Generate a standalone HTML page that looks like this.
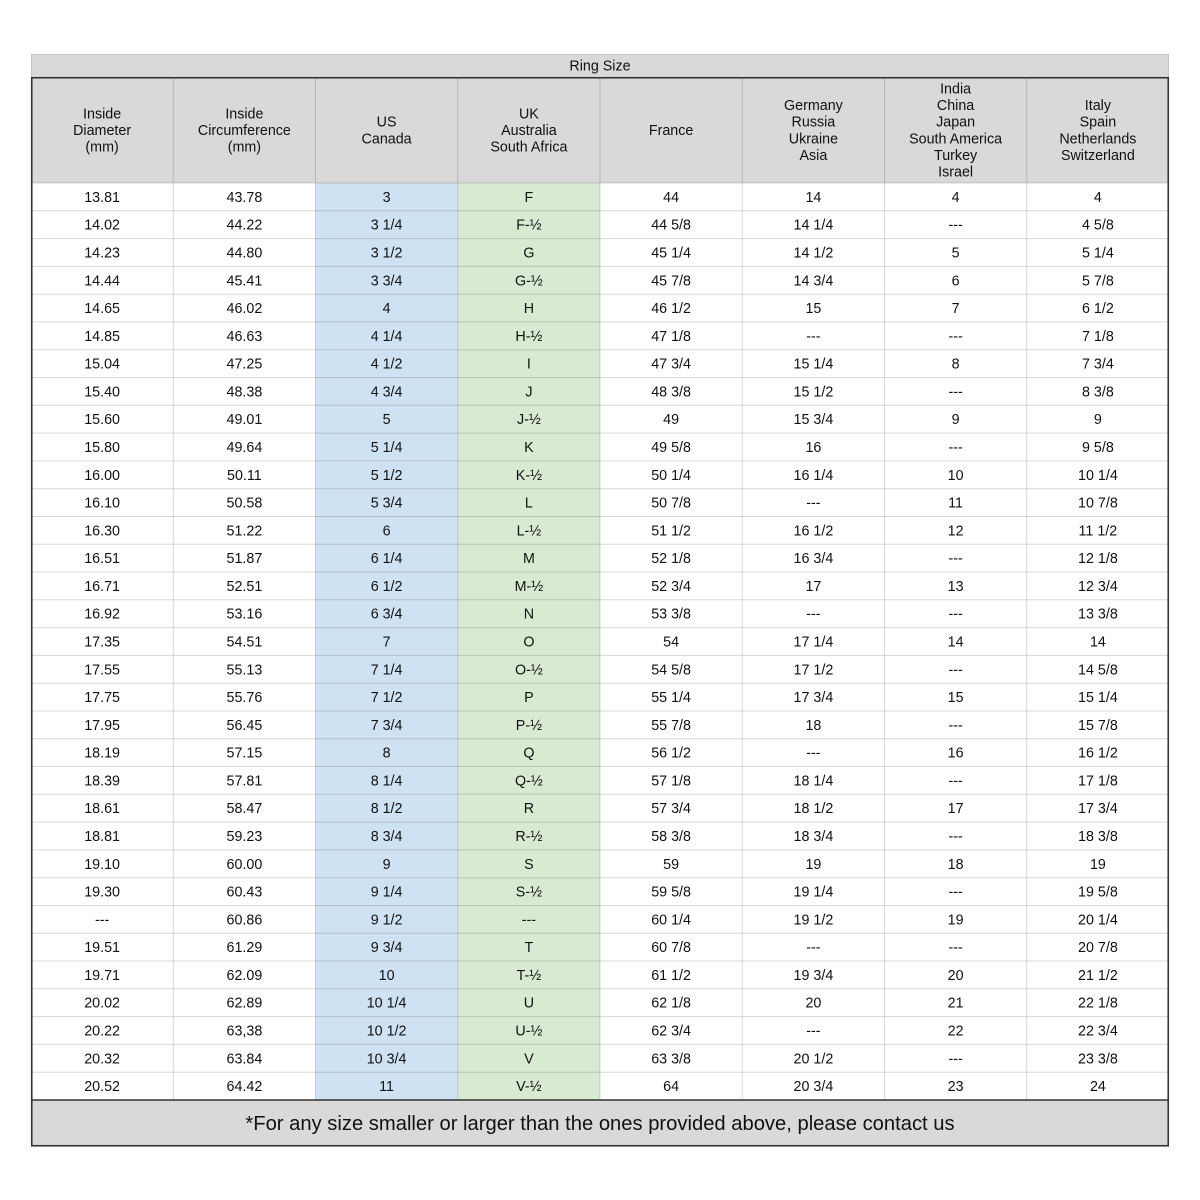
<!DOCTYPE html>
<html><head><meta charset="utf-8"><style>
html,body{margin:0;padding:0;background:#fff;}
svg{display:block;}
text{font-family:"Liberation Sans",Arial,sans-serif;font-size:14.3px;fill:#111;text-anchor:middle;}
.f{font-size:20.2px;}
</style></head><body>
<svg width="1200" height="1200" viewBox="0 0 1200 1200" xmlns="http://www.w3.org/2000/svg">
<rect x="0" y="0" width="1200" height="1200" fill="#fff"/>
<rect x="31.5" y="54.5" width="1137" height="23" fill="#d9d9d9" stroke="#c4c4c4" stroke-width="1"/>
<text x="600" y="70.5">Ring Size</text>
<rect x="31" y="77" width="1138" height="106" fill="#d9d9d9"/>
<rect x="315.5" y="183" width="142.25" height="917" fill="#cfe2f3"/>
<rect x="457.75" y="183" width="142.25" height="917" fill="#d9ead3"/>
<rect x="31" y="1100" width="1138" height="46" fill="#d9d9d9"/>
<g stroke="rgba(0,0,0,0.15)" stroke-width="1" fill="none">
<path d="M173.25 77V1100M315.5 77V1100M457.75 77V1100M600 77V1100M742.25 77V1100M884.5 77V1100M1026.75 77V1100"/>
<path d="M31 183H1169M31 210.8H1169M31 238.6H1169M31 266.4H1169M31 294.2H1169M31 321.9H1169M31 349.7H1169M31 377.5H1169M31 405.3H1169M31 433.1H1169M31 460.9H1169M31 488.7H1169M31 516.5H1169M31 544.2H1169M31 572H1169M31 599.8H1169M31 627.6H1169M31 655.4H1169M31 683.2H1169M31 711H1169M31 738.8H1169M31 766.5H1169M31 794.3H1169M31 822.1H1169M31 849.9H1169M31 877.7H1169M31 905.5H1169M31 933.3H1169M31 961H1169M31 988.8H1169M31 1016.6H1169M31 1044.4H1169M31 1072.2H1169"/>
</g>
<!-- header -->
<text x="102.1" y="118.4">Inside</text><text x="102.1" y="135">Diameter</text><text x="102.1" y="151.6">(mm)</text>
<text x="244.4" y="118.4">Inside</text><text x="244.4" y="135">Circumference</text><text x="244.4" y="151.6">(mm)</text>
<text x="386.6" y="126.7">US</text><text x="386.6" y="143.3">Canada</text>
<text x="528.9" y="118.4">UK</text><text x="528.9" y="135">Australia</text><text x="528.9" y="151.6">South Africa</text>
<text x="671.1" y="135">France</text>
<text x="813.4" y="110.1">Germany</text><text x="813.4" y="126.7">Russia</text><text x="813.4" y="143.3">Ukraine</text><text x="813.4" y="159.9">Asia</text>
<text x="955.6" y="93.5">India</text><text x="955.6" y="110.1">China</text><text x="955.6" y="126.7">Japan</text><text x="955.6" y="143.3">South America</text><text x="955.6" y="159.9">Turkey</text><text x="955.6" y="176.5">Israel</text>
<text x="1097.9" y="110.1">Italy</text><text x="1097.9" y="126.7">Spain</text><text x="1097.9" y="143.3">Netherlands</text><text x="1097.9" y="159.9">Switzerland</text>
<!-- rows -->
<text y="201.9"><tspan x="102.1">13.81</tspan><tspan x="244.4">43.78</tspan><tspan x="386.6">3</tspan><tspan x="528.9">F</tspan><tspan x="671.1">44</tspan><tspan x="813.4">14</tspan><tspan x="955.6">4</tspan><tspan x="1097.9">4</tspan></text>
<text y="229.7"><tspan x="102.1">14.02</tspan><tspan x="244.4">44.22</tspan><tspan x="386.6">3 1/4</tspan><tspan x="528.9">F-½</tspan><tspan x="671.1">44 5/8</tspan><tspan x="813.4">14 1/4</tspan><tspan x="955.6">---</tspan><tspan x="1097.9">4 5/8</tspan></text>
<text y="257.5"><tspan x="102.1">14.23</tspan><tspan x="244.4">44.80</tspan><tspan x="386.6">3 1/2</tspan><tspan x="528.9">G</tspan><tspan x="671.1">45 1/4</tspan><tspan x="813.4">14 1/2</tspan><tspan x="955.6">5</tspan><tspan x="1097.9">5 1/4</tspan></text>
<text y="285.3"><tspan x="102.1">14.44</tspan><tspan x="244.4">45.41</tspan><tspan x="386.6">3 3/4</tspan><tspan x="528.9">G-½</tspan><tspan x="671.1">45 7/8</tspan><tspan x="813.4">14 3/4</tspan><tspan x="955.6">6</tspan><tspan x="1097.9">5 7/8</tspan></text>
<text y="313.0"><tspan x="102.1">14.65</tspan><tspan x="244.4">46.02</tspan><tspan x="386.6">4</tspan><tspan x="528.9">H</tspan><tspan x="671.1">46 1/2</tspan><tspan x="813.4">15</tspan><tspan x="955.6">7</tspan><tspan x="1097.9">6 1/2</tspan></text>
<text y="340.8"><tspan x="102.1">14.85</tspan><tspan x="244.4">46.63</tspan><tspan x="386.6">4 1/4</tspan><tspan x="528.9">H-½</tspan><tspan x="671.1">47 1/8</tspan><tspan x="813.4">---</tspan><tspan x="955.6">---</tspan><tspan x="1097.9">7 1/8</tspan></text>
<text y="368.6"><tspan x="102.1">15.04</tspan><tspan x="244.4">47.25</tspan><tspan x="386.6">4 1/2</tspan><tspan x="528.9">I</tspan><tspan x="671.1">47 3/4</tspan><tspan x="813.4">15 1/4</tspan><tspan x="955.6">8</tspan><tspan x="1097.9">7 3/4</tspan></text>
<text y="396.4"><tspan x="102.1">15.40</tspan><tspan x="244.4">48.38</tspan><tspan x="386.6">4 3/4</tspan><tspan x="528.9">J</tspan><tspan x="671.1">48 3/8</tspan><tspan x="813.4">15 1/2</tspan><tspan x="955.6">---</tspan><tspan x="1097.9">8 3/8</tspan></text>
<text y="424.2"><tspan x="102.1">15.60</tspan><tspan x="244.4">49.01</tspan><tspan x="386.6">5</tspan><tspan x="528.9">J-½</tspan><tspan x="671.1">49</tspan><tspan x="813.4">15 3/4</tspan><tspan x="955.6">9</tspan><tspan x="1097.9">9</tspan></text>
<text y="452.0"><tspan x="102.1">15.80</tspan><tspan x="244.4">49.64</tspan><tspan x="386.6">5 1/4</tspan><tspan x="528.9">K</tspan><tspan x="671.1">49 5/8</tspan><tspan x="813.4">16</tspan><tspan x="955.6">---</tspan><tspan x="1097.9">9 5/8</tspan></text>
<text y="479.8"><tspan x="102.1">16.00</tspan><tspan x="244.4">50.11</tspan><tspan x="386.6">5 1/2</tspan><tspan x="528.9">K-½</tspan><tspan x="671.1">50 1/4</tspan><tspan x="813.4">16 1/4</tspan><tspan x="955.6">10</tspan><tspan x="1097.9">10 1/4</tspan></text>
<text y="507.6"><tspan x="102.1">16.10</tspan><tspan x="244.4">50.58</tspan><tspan x="386.6">5 3/4</tspan><tspan x="528.9">L</tspan><tspan x="671.1">50 7/8</tspan><tspan x="813.4">---</tspan><tspan x="955.6">11</tspan><tspan x="1097.9">10 7/8</tspan></text>
<text y="535.3"><tspan x="102.1">16.30</tspan><tspan x="244.4">51.22</tspan><tspan x="386.6">6</tspan><tspan x="528.9">L-½</tspan><tspan x="671.1">51 1/2</tspan><tspan x="813.4">16 1/2</tspan><tspan x="955.6">12</tspan><tspan x="1097.9">11 1/2</tspan></text>
<text y="563.1"><tspan x="102.1">16.51</tspan><tspan x="244.4">51.87</tspan><tspan x="386.6">6 1/4</tspan><tspan x="528.9">M</tspan><tspan x="671.1">52 1/8</tspan><tspan x="813.4">16 3/4</tspan><tspan x="955.6">---</tspan><tspan x="1097.9">12 1/8</tspan></text>
<text y="590.9"><tspan x="102.1">16.71</tspan><tspan x="244.4">52.51</tspan><tspan x="386.6">6 1/2</tspan><tspan x="528.9">M-½</tspan><tspan x="671.1">52 3/4</tspan><tspan x="813.4">17</tspan><tspan x="955.6">13</tspan><tspan x="1097.9">12 3/4</tspan></text>
<text y="618.7"><tspan x="102.1">16.92</tspan><tspan x="244.4">53.16</tspan><tspan x="386.6">6 3/4</tspan><tspan x="528.9">N</tspan><tspan x="671.1">53 3/8</tspan><tspan x="813.4">---</tspan><tspan x="955.6">---</tspan><tspan x="1097.9">13 3/8</tspan></text>
<text y="646.5"><tspan x="102.1">17.35</tspan><tspan x="244.4">54.51</tspan><tspan x="386.6">7</tspan><tspan x="528.9">O</tspan><tspan x="671.1">54</tspan><tspan x="813.4">17 1/4</tspan><tspan x="955.6">14</tspan><tspan x="1097.9">14</tspan></text>
<text y="674.3"><tspan x="102.1">17.55</tspan><tspan x="244.4">55.13</tspan><tspan x="386.6">7 1/4</tspan><tspan x="528.9">O-½</tspan><tspan x="671.1">54 5/8</tspan><tspan x="813.4">17 1/2</tspan><tspan x="955.6">---</tspan><tspan x="1097.9">14 5/8</tspan></text>
<text y="702.1"><tspan x="102.1">17.75</tspan><tspan x="244.4">55.76</tspan><tspan x="386.6">7 1/2</tspan><tspan x="528.9">P</tspan><tspan x="671.1">55 1/4</tspan><tspan x="813.4">17 3/4</tspan><tspan x="955.6">15</tspan><tspan x="1097.9">15 1/4</tspan></text>
<text y="729.9"><tspan x="102.1">17.95</tspan><tspan x="244.4">56.45</tspan><tspan x="386.6">7 3/4</tspan><tspan x="528.9">P-½</tspan><tspan x="671.1">55 7/8</tspan><tspan x="813.4">18</tspan><tspan x="955.6">---</tspan><tspan x="1097.9">15 7/8</tspan></text>
<text y="757.6"><tspan x="102.1">18.19</tspan><tspan x="244.4">57.15</tspan><tspan x="386.6">8</tspan><tspan x="528.9">Q</tspan><tspan x="671.1">56 1/2</tspan><tspan x="813.4">---</tspan><tspan x="955.6">16</tspan><tspan x="1097.9">16 1/2</tspan></text>
<text y="785.4"><tspan x="102.1">18.39</tspan><tspan x="244.4">57.81</tspan><tspan x="386.6">8 1/4</tspan><tspan x="528.9">Q-½</tspan><tspan x="671.1">57 1/8</tspan><tspan x="813.4">18 1/4</tspan><tspan x="955.6">---</tspan><tspan x="1097.9">17 1/8</tspan></text>
<text y="813.2"><tspan x="102.1">18.61</tspan><tspan x="244.4">58.47</tspan><tspan x="386.6">8 1/2</tspan><tspan x="528.9">R</tspan><tspan x="671.1">57 3/4</tspan><tspan x="813.4">18 1/2</tspan><tspan x="955.6">17</tspan><tspan x="1097.9">17 3/4</tspan></text>
<text y="841.0"><tspan x="102.1">18.81</tspan><tspan x="244.4">59.23</tspan><tspan x="386.6">8 3/4</tspan><tspan x="528.9">R-½</tspan><tspan x="671.1">58 3/8</tspan><tspan x="813.4">18 3/4</tspan><tspan x="955.6">---</tspan><tspan x="1097.9">18 3/8</tspan></text>
<text y="868.8"><tspan x="102.1">19.10</tspan><tspan x="244.4">60.00</tspan><tspan x="386.6">9</tspan><tspan x="528.9">S</tspan><tspan x="671.1">59</tspan><tspan x="813.4">19</tspan><tspan x="955.6">18</tspan><tspan x="1097.9">19</tspan></text>
<text y="896.6"><tspan x="102.1">19.30</tspan><tspan x="244.4">60.43</tspan><tspan x="386.6">9 1/4</tspan><tspan x="528.9">S-½</tspan><tspan x="671.1">59 5/8</tspan><tspan x="813.4">19 1/4</tspan><tspan x="955.6">---</tspan><tspan x="1097.9">19 5/8</tspan></text>
<text y="924.4"><tspan x="102.1">---</tspan><tspan x="244.4">60.86</tspan><tspan x="386.6">9 1/2</tspan><tspan x="528.9">---</tspan><tspan x="671.1">60 1/4</tspan><tspan x="813.4">19 1/2</tspan><tspan x="955.6">19</tspan><tspan x="1097.9">20 1/4</tspan></text>
<text y="952.2"><tspan x="102.1">19.51</tspan><tspan x="244.4">61.29</tspan><tspan x="386.6">9 3/4</tspan><tspan x="528.9">T</tspan><tspan x="671.1">60 7/8</tspan><tspan x="813.4">---</tspan><tspan x="955.6">---</tspan><tspan x="1097.9">20 7/8</tspan></text>
<text y="979.9"><tspan x="102.1">19.71</tspan><tspan x="244.4">62.09</tspan><tspan x="386.6">10</tspan><tspan x="528.9">T-½</tspan><tspan x="671.1">61 1/2</tspan><tspan x="813.4">19 3/4</tspan><tspan x="955.6">20</tspan><tspan x="1097.9">21 1/2</tspan></text>
<text y="1007.7"><tspan x="102.1">20.02</tspan><tspan x="244.4">62.89</tspan><tspan x="386.6">10 1/4</tspan><tspan x="528.9">U</tspan><tspan x="671.1">62 1/8</tspan><tspan x="813.4">20</tspan><tspan x="955.6">21</tspan><tspan x="1097.9">22 1/8</tspan></text>
<text y="1035.5"><tspan x="102.1">20.22</tspan><tspan x="244.4">63,38</tspan><tspan x="386.6">10 1/2</tspan><tspan x="528.9">U-½</tspan><tspan x="671.1">62 3/4</tspan><tspan x="813.4">---</tspan><tspan x="955.6">22</tspan><tspan x="1097.9">22 3/4</tspan></text>
<text y="1063.3"><tspan x="102.1">20.32</tspan><tspan x="244.4">63.84</tspan><tspan x="386.6">10 3/4</tspan><tspan x="528.9">V</tspan><tspan x="671.1">63 3/8</tspan><tspan x="813.4">20 1/2</tspan><tspan x="955.6">---</tspan><tspan x="1097.9">23 3/8</tspan></text>
<text y="1091.1"><tspan x="102.1">20.52</tspan><tspan x="244.4">64.42</tspan><tspan x="386.6">11</tspan><tspan x="528.9">V-½</tspan><tspan x="671.1">64</tspan><tspan x="813.4">20 3/4</tspan><tspan x="955.6">23</tspan><tspan x="1097.9">24</tspan></text>
<!-- footer -->
<text class="f" x="600" y="1130">*For any size smaller or larger than the ones provided above, please contact us</text>
<path d="M31 1100H1169" stroke="#333" stroke-width="1.6" fill="none"/>
<rect x="31.75" y="77.75" width="1136.5" height="1068" fill="none" stroke="#333" stroke-width="1.6"/>
</svg>
</body></html>
